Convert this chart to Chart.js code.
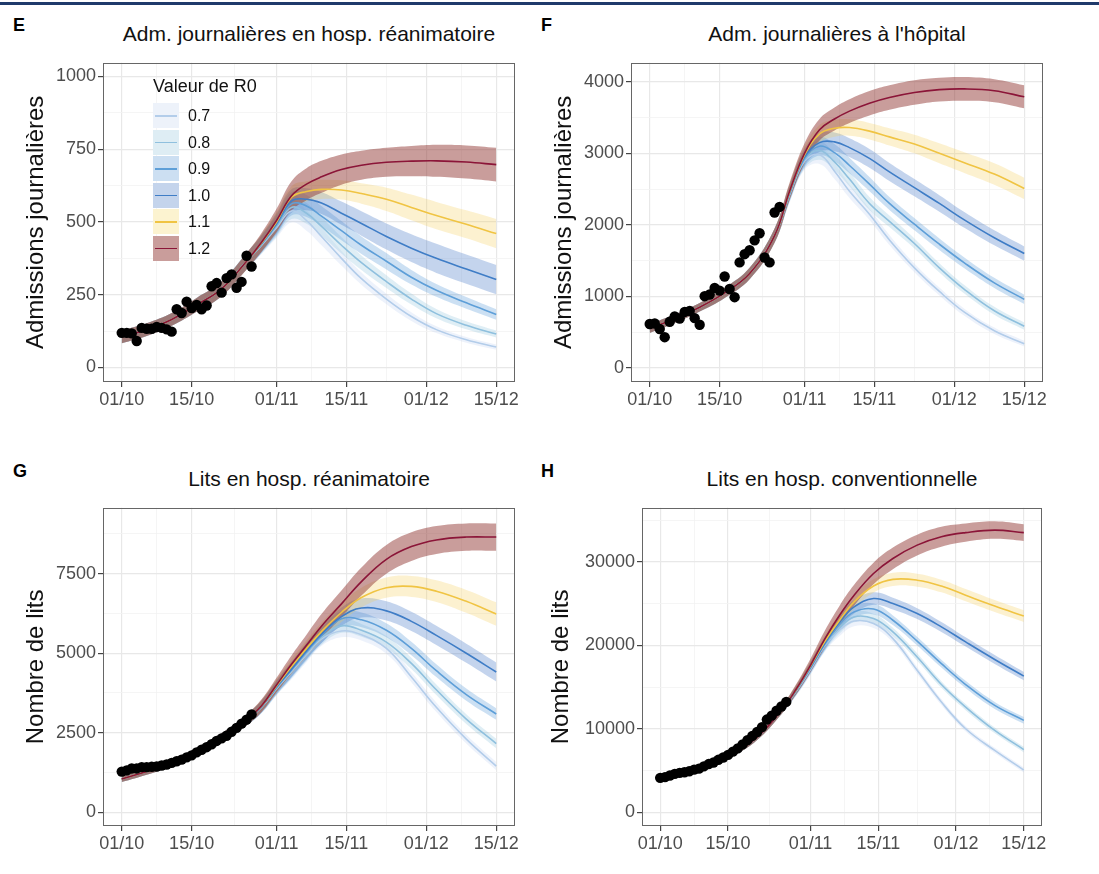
<!DOCTYPE html>
<html>
<head>
<meta charset="utf-8">
<script src="https://cdn.jsdelivr.net/npm/chart.js@4.4.1/dist/chart.umd.min.js"></script>
<style>
  body { margin: 0; background: #fff; width: 1099px; height: 874px; position: relative; overflow: hidden;
         font-family: "Liberation Sans", Arial, sans-serif; }
  canvas { position: absolute; }
  .topbar { position: absolute; left: 0; top: 2px; width: 1099px; height: 3px; background: #1f3a6b; }
  .letter { position: absolute; font-weight: bold; font-size: 18px; line-height: 18px; color: #000; }
  .ptitle { position: absolute; width: 500px; text-align: center; font-size: 21px; line-height: 20px; color: #111; }
  .lgtitle { position: absolute; left: 153px; top: 77px; font-size: 18px; line-height: 18px; color: #111; }
  .lgkey { position: absolute; left: 153px; width: 26px; height: 25px; }
  .lgkey i { position: absolute; left: 2px; right: 2px; top: 12px; height: 1.5px; }
  .lglab { position: absolute; left: 188px; font-size: 16px; line-height: 25px; color: #111; }
</style>
</head>
<body>
<div class="topbar"></div>

<div class="letter" style="left:13px;top:16px">E</div>
<div class="letter" style="left:541px;top:16px">F</div>
<div class="letter" style="left:13px;top:462px">G</div>
<div class="letter" style="left:541px;top:462px">H</div>

<div class="ptitle" style="left:59px;top:24px">Adm. journalières en hosp. réanimatoire</div>
<div class="ptitle" style="left:587px;top:24px">Adm. journalières à l'hôpital</div>
<div class="ptitle" style="left:59px;top:469px">Lits en hosp. réanimatoire</div>
<div class="ptitle" style="left:592px;top:469px">Lits en hosp. conventionnelle</div>

<canvas id="cE" width="525" height="362" style="left:0px;top:50px"></canvas>
<canvas id="cF" width="525" height="362" style="left:528px;top:50px"></canvas>
<canvas id="cG" width="525" height="361" style="left:0px;top:495px"></canvas>
<canvas id="cH" width="525" height="361" style="left:528px;top:495px"></canvas>

<div id="legend"></div>

<script>
// days since 01/10
const days = [0, 5, 10, 15, 20, 25, 28, 31, 34, 37, 40, 44, 48, 53, 58, 63, 69, 75];
const obsDays = [0, 1, 2, 3, 4, 5, 6, 7, 8, 9, 10, 11, 12, 13, 14, 15, 16, 17, 18, 19, 20, 21, 22, 23, 24, 25, 26];

const rValues = ["0.7", "0.8", "0.9", "1.0", "1.1", "1.2"];

const xMajor = [0, 14, 31, 45, 61, 75];
const xMinor = [7, 22.5, 38, 53, 68];
const xLabels = ["01/10", "15/10", "01/11", "15/11", "01/12", "15/12"];

// ---- E : daily ICU admissions
const admIcu07 = [105,130,165,215,270,365,420,480,538,505,450,375,305,235,175,130,95,70];
const admIcu08 = [105,130,165,215,270,365,422,485,550,530,485,420,360,295,235,185,145,115];
const admIcu09 = [105,130,165,215,270,365,424,490,562,555,520,470,420,365,310,265,222,182];
const admIcu10 = [105,130,165,215,270,365,426,495,572,578,565,530,495,450,410,375,338,302];
const admIcu11 = [105,130,165,215,270,365,428,500,585,605,612,610,598,578,550,522,492,460];
const admIcu12 = [105,130,165,215,270,365,430,505,590,630,655,680,695,705,709,710,706,697];
const admIcuBand07 = [22,22,22,24,25,28,30,35,40,35,30,25,21,18,15,12,10,9];
const admIcuBand08 = [22,22,22,24,25,28,30,35,40,36,32,28,25,22,19,16,14,12];
const admIcuBand09 = [22,22,22,24,25,28,30,35,40,38,35,33,30,28,25,22,20,18];
const admIcuBand10 = [22,22,22,24,25,28,30,35,40,38,38,40,42,45,48,50,50,50];
const admIcuBand11 = [22,22,22,24,25,28,30,35,38,35,33,33,35,40,44,47,48,50];
const admIcuBand12 = [22,22,22,24,25,28,32,40,50,55,55,52,50,50,52,55,57,58];
const admIcuObs = [119,119,117,91,136,133,133,139,136,131,123,200,187,226,204,215,200,213,279,290,257,307,320,274,294,384,347];
const admIcuTicks = [0, 250, 500, 750, 1000];
const admIcuMinor = [125, 375, 625, 875];

// ---- F : daily hospital admissions
const admHosp07 = [550,690,850,1050,1320,1850,2420,2890,2980,2750,2470,2150,1790,1400,1070,780,520,340];
const admHosp08 = [550,690,850,1050,1320,1850,2430,2910,3040,2880,2640,2300,2050,1740,1400,1100,800,585];
const admHosp09 = [550,690,850,1050,1320,1850,2440,2930,3100,3010,2830,2570,2300,2010,1730,1470,1190,960];
const admHosp10 = [550,690,850,1050,1320,1850,2450,2950,3150,3160,3080,2930,2740,2520,2300,2070,1820,1600];
const admHosp11 = [550,690,850,1050,1320,1850,2460,2980,3270,3350,3360,3310,3230,3130,3000,2870,2710,2510];
const admHosp12 = [550,690,850,1050,1320,1850,2470,3000,3330,3480,3590,3700,3780,3850,3890,3900,3875,3790];
const admHospBand07 = [60,60,60,70,80,100,110,120,130,110,95,80,70,60,55,50,45,40];
const admHospBand08 = [60,60,60,70,80,100,110,120,130,115,100,90,80,70,65,60,55,50];
const admHospBand09 = [60,60,60,70,80,100,110,120,130,120,110,100,90,85,80,75,70,65];
const admHospBand10 = [60,60,60,70,80,100,110,120,130,130,130,130,125,120,115,110,105,100];
const admHospBand11 = [60,60,60,70,80,100,110,120,125,120,115,115,120,130,140,145,150,150];
const admHospBand12 = [60,60,60,70,80,100,120,140,150,160,165,170,170,170,165,165,160,160];
const admHospObs = [615,623,546,431,646,720,692,784,798,697,605,1004,1027,1118,1082,1279,1105,990,1476,1591,1646,1784,1884,1545,1476,2173,2251];
const admHospTicks = [0, 1000, 2000, 3000, 4000];
const admHospMinor = [500, 1500, 2500, 3500];

// ---- G : ICU beds
const bedsIcu07 = [1050,1280,1560,1900,2350,2900,3300,3880,4420,4950,5450,5700,5580,5150,4250,3300,2300,1450];
const bedsIcu08 = [1050,1280,1560,1900,2350,2900,3310,3900,4450,5000,5500,5860,5720,5350,4680,3850,2930,2160];
const bedsIcu09 = [1050,1280,1560,1900,2350,2900,3320,3920,4480,5040,5560,6080,6050,5720,5150,4450,3700,3090];
const bedsIcu10 = [1050,1280,1560,1900,2350,2900,3330,3940,4500,5080,5600,6150,6420,6330,6000,5560,5000,4410];
const bedsIcu11 = [1050,1280,1560,1900,2350,2900,3340,3970,4580,5150,5680,6280,6750,7060,7100,6950,6630,6230];
const bedsIcu12 = [1050,1280,1560,1900,2350,2900,3350,4000,4650,5250,5850,6550,7250,7950,8350,8560,8650,8650];
const bedsIcuBand07 = [100,100,110,120,140,170,190,210,240,230,220,200,180,170,160,150,140,130];
const bedsIcuBand08 = [100,100,110,120,140,170,190,210,240,240,230,220,200,190,175,165,155,150];
const bedsIcuBand09 = [100,100,110,120,140,170,190,210,240,250,250,240,230,220,210,200,190,180];
const bedsIcuBand10 = [100,100,110,120,140,170,190,210,240,260,280,290,300,300,300,300,300,300];
const bedsIcuBand11 = [100,100,110,120,140,170,190,210,240,260,280,300,310,320,330,340,360,370];
const bedsIcuBand12 = [100,100,110,120,140,170,200,230,280,330,380,420,440,450,450,440,430,430];
const bedsIcuObs = [1280,1317,1379,1379,1420,1420,1430,1440,1471,1502,1554,1605,1657,1728,1790,1883,1965,2047,2140,2243,2325,2407,2531,2654,2788,2911,3076];
const bedsIcuTicks = [0, 2500, 5000, 7500];
const bedsIcuMinor = [1250, 3750, 6250, 8750];

// ---- H : conventional hospital beds
const bedsHosp07 = [4150,4800,5650,7000,9000,12200,14450,17100,20000,21800,22900,22600,20800,17000,13200,10000,7400,5050];
const bedsHosp08 = [4150,4800,5650,7000,9000,12200,14500,17200,20100,22100,23400,23200,21600,18600,15300,12600,9800,7500];
const bedsHosp09 = [4150,4800,5650,7000,9000,12200,14550,17300,20200,22500,24000,24350,23000,20500,17800,15300,12800,11000];
const bedsHosp10 = [4150,4800,5650,7000,9000,12200,14600,17400,20300,22800,24600,25600,25000,23800,22200,20400,18300,16300];
const bedsHosp11 = [4150,4800,5650,7000,9000,12200,14650,17500,20500,23000,25200,27100,27900,27800,27100,26000,24700,23500];
const bedsHosp12 = [4150,4800,5650,7000,9000,12200,14700,17600,20800,23600,26000,28600,30400,32000,33000,33500,33800,33500];
const bedsHospBand07 = [250,250,280,300,350,450,550,650,750,700,620,540,460,400,360,330,310,300];
const bedsHospBand08 = [250,250,280,300,350,450,550,650,750,700,650,580,500,440,400,370,350,330];
const bedsHospBand09 = [250,250,280,300,350,450,550,650,750,750,700,650,580,520,470,440,420,400];
const bedsHospBand10 = [250,250,280,300,350,450,550,650,750,800,800,750,700,650,600,560,530,500];
const bedsHospBand11 = [250,250,280,300,350,450,550,650,750,800,800,800,800,780,760,740,720,700];
const bedsHospBand12 = [250,250,280,300,350,450,600,800,1000,1150,1250,1300,1300,1250,1200,1100,1050,1000];
const bedsHospObs = [4120,4200,4400,4590,4710,4790,4910,5100,5220,5490,5770,5960,6280,6550,6870,7260,7650,8120,8630,9140,9610,10200,11100,11570,12160,12670,13220];
const bedsHospTicks = [0, 10000, 20000, 30000];
const bedsHospMinor = [5000, 15000, 25000, 35000];

const lineColors = ["#b3cdea", "#8fc0de", "#5e9fd8", "#3f7dc6", "#f0c443", "#8b1538"];
const bandColors = ["rgba(150,180,230,0.17)", "rgba(130,190,215,0.26)", "rgba(100,160,220,0.33)",
                    "rgba(70,120,200,0.32)", "rgba(245,205,80,0.27)", "rgba(145,55,50,0.49)"];
const keyColors = ["#edf2fa", "#deedf4", "#ccdff2", "#c4d4ec", "#fcf3d0", "#c99d9b"];

const FONT = "'Liberation Sans', Arial, sans-serif";

function pts(xs, ys) {
  return xs.map((x, i) => ({ x: x, y: ys[i] }));
}

// panel border like ggplot theme_bw
const framePlugin = {
  id: "frame",
  afterDatasetsDraw(chart) {
    const { ctx, chartArea: a } = chart;
    ctx.save();
    ctx.strokeStyle = "#666";
    ctx.lineWidth = 1;
    ctx.strokeRect(Math.round(a.left) + 0.5, Math.round(a.top) + 0.5,
                   Math.round(a.right - a.left) - 1, Math.round(a.bottom - a.top) - 1);
    ctx.restore();
  }
};

function makePanel(id, opt) {
  const datasets = [];
  opt.mids.forEach((mid, k) => {
    const band = opt.bands[k];
    const loIdx = datasets.length;
    datasets.push({
      data: pts(days, mid.map((v, i) => v - band[i])),
      borderColor: "transparent", borderWidth: 0, pointRadius: 0, fill: false,
      tension: 0.4, order: 30 - 2 * k
    });
    datasets.push({
      data: pts(days, mid.map((v, i) => v + band[i])),
      borderColor: "transparent", borderWidth: 0, pointRadius: 0,
      fill: loIdx, backgroundColor: bandColors[k],
      tension: 0.4, order: 30 - 2 * k
    });
  });
  opt.mids.forEach((mid, k) => {
    datasets.push({
      data: pts(days, mid),
      borderColor: lineColors[k], borderWidth: 1.6, pointRadius: 0, fill: false,
      tension: 0.4, order: 10 - k
    });
  });
  datasets.push({
    data: pts(obsDays, opt.obs),
    showLine: false, pointRadius: 5.2, pointBackgroundColor: "#000",
    pointBorderWidth: 0, borderColor: "#000", order: 0
  });

  const isMajorX = (v) => xMajor.includes(v);
  const isMajorY = (v) => opt.ticks.includes(v);

  new Chart(document.getElementById(id), {
    type: "line",
    data: { datasets },
    plugins: [framePlugin],
    options: {
      responsive: false,
      animation: false,
      events: [],
      devicePixelRatio: 1,
      layout: { padding: { top: 7, right: opt.padRight, left: 0, bottom: 0 } },
      plugins: { legend: { display: false }, tooltip: { enabled: false } },
      scales: {
        x: {
          type: "linear", min: -3.75, max: 78.75,
          afterBuildTicks: (s) => { s.ticks = xMajor.concat(xMinor).sort((a, b) => a - b).map(v => ({ value: v })); },
          afterFit: (s) => { s.height = 30; },
          border: { display: false },
          grid: {
            color: (c) => (c.tick && isMajorX(c.tick.value)) ? "#e8e8e8" : "#f2f2f2",
            lineWidth: (c) => (c.tick && isMajorX(c.tick.value)) ? 1.2 : 0.8,
            tickColor: (c) => (c.tick && isMajorX(c.tick.value)) ? "#444" : "transparent",
            tickLength: 5
          },
          ticks: {
            autoSkip: false, maxRotation: 0, padding: 2, color: "#4d4d4d",
            font: { family: FONT, size: 18 },
            callback: (v) => { const i = xMajor.indexOf(v); return i >= 0 ? xLabels[i] : ""; }
          }
        },
        y: {
          min: opt.yMin, max: opt.yMax,
          afterBuildTicks: (s) => { s.ticks = opt.ticks.concat(opt.minor).sort((a, b) => a - b).map(v => ({ value: v })); },
          afterFit: (s) => { s.width = opt.axisW; },
          border: { display: false },
          grid: {
            color: (c) => (c.tick && isMajorY(c.tick.value)) ? "#e8e8e8" : "#f2f2f2",
            lineWidth: (c) => (c.tick && isMajorY(c.tick.value)) ? 1.2 : 0.8,
            tickColor: (c) => (c.tick && isMajorY(c.tick.value)) ? "#444" : "transparent",
            tickLength: 5
          },
          ticks: {
            autoSkip: false, padding: 2, color: "#4d4d4d",
            font: { family: FONT, size: 18 },
            callback: (v) => isMajorY(v) ? String(v) : ""
          },
          title: {
            display: true, text: opt.yTitle, color: "#111",
            font: { family: FONT, size: 24 },
            padding: { top: opt.titlePad, bottom: 0 }
          }
        }
      }
    }
  });
}

makePanel("cE", {
  mids: [admIcu07, admIcu08, admIcu09, admIcu10, admIcu11, admIcu12],
  bands: [admIcuBand07, admIcuBand08, admIcuBand09, admIcuBand10, admIcuBand11, admIcuBand12],
  obs: admIcuObs, ticks: admIcuTicks, minor: admIcuMinor,
  yMin: -50, yMax: 1047, yTitle: "Admissions journalières", axisW: 103, titlePad: 22, padRight: 10
});
makePanel("cF", {
  mids: [admHosp07, admHosp08, admHosp09, admHosp10, admHosp11, admHosp12],
  bands: [admHospBand07, admHospBand08, admHospBand09, admHospBand10, admHospBand11, admHospBand12],
  obs: admHospObs, ticks: admHospTicks, minor: admHospMinor,
  yMin: -195, yMax: 4265, yTitle: "Admissions journalières", axisW: 103, titlePad: 22, padRight: 10
});
makePanel("cG", {
  mids: [bedsIcu07, bedsIcu08, bedsIcu09, bedsIcu10, bedsIcu11, bedsIcu12],
  bands: [bedsIcuBand07, bedsIcuBand08, bedsIcuBand09, bedsIcuBand10, bedsIcuBand11, bedsIcuBand12],
  obs: bedsIcuObs, ticks: bedsIcuTicks, minor: bedsIcuMinor,
  yMin: -430, yMax: 9570, yTitle: "Nombre de lits", axisW: 103, titlePad: 22, padRight: 10
});
makePanel("cH", {
  mids: [bedsHosp07, bedsHosp08, bedsHosp09, bedsHosp10, bedsHosp11, bedsHosp12],
  bands: [bedsHospBand07, bedsHospBand08, bedsHospBand09, bedsHospBand10, bedsHospBand11, bedsHospBand12],
  obs: bedsHospObs, ticks: bedsHospTicks, minor: bedsHospMinor,
  yMin: -1650, yMax: 36470, yTitle: "Nombre de lits", axisW: 114, titlePad: 19, padRight: 11
});

// legend inside panel E
const lg = document.getElementById("legend");
let html = '<div class="lgtitle">Valeur de R0</div>';
rValues.forEach((r, k) => {
  const top = 103 + k * 26.5;
  html += '<div class="lgkey" style="top:' + top + 'px;background:' + keyColors[k] + '"><i style="background:' + lineColors[k] + '"></i></div>';
  html += '<div class="lglab" style="top:' + top + 'px">' + r + '</div>';
});
lg.innerHTML = html;
</script>
</body>
</html>
